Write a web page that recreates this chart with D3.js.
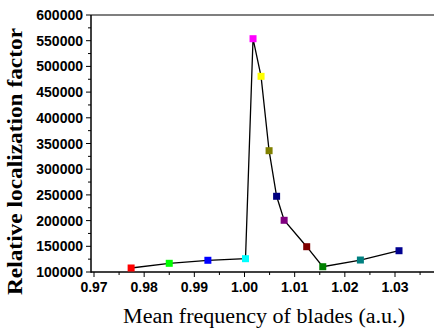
<!DOCTYPE html>
<html>
<head>
<meta charset="utf-8">
<script src="https://cdn.jsdelivr.net/npm/d3@7"></script>
<style>
  body { margin: 0; background: #fff; }
  svg text { fill: #000; }
</style>
</head>
<body>
<script>
// values
const freq = [0.9774, 0.9850, 0.9927, 1.0002, 1.0017, 1.0033, 1.0049, 1.0064, 1.0079, 1.0124, 1.0156, 1.0231, 1.0308]
const factor = [107800, 116900, 122800, 125900, 553900, 480700, 336000, 247300, 200600, 149200, 110300, 123300, 141400]
const colors = ['#ff0000', '#00ff00', '#0000ff', '#00ffff', '#ff00ff', '#ffff00', '#808000', '#000080', '#800080', '#800000', '#008000', '#008080', '#000090']
const xTicks = [0.97, 0.98, 0.99, 1.00, 1.01, 1.02, 1.03]
const yTicks = [100000, 150000, 200000, 250000, 300000, 350000, 400000, 450000, 500000, 550000, 600000]

const width = 434, height = 331
const plotLeft = 91, plotTop = 15, plotBottom = 272

const svg = d3.select('body').append('svg')
  .attr('width', width).attr('height', height)

const x = d3.scaleLinear().domain([0.97, 1.03]).range([94, 395])
const y = d3.scaleLinear().domain([100000, 600000]).range([plotBottom, plotTop])

const data = freq.map((f, i) => ({ f, v: factor[i], c: colors[i] }))

// top frame line (right side is cut off in the original)
svg.append('line')
  .attr('x1', plotLeft).attr('x2', width)
  .attr('y1', plotTop).attr('y2', plotTop)
  .attr('stroke', '#555').attr('stroke-width', 1.5)

// x axis
const xAxis = svg.append('g').attr('transform', `translate(0,${plotBottom})`)
xAxis.append('line').attr('x1', plotLeft).attr('x2', width).attr('stroke', '#000').attr('stroke-width', 1.5)
const xMinor = d3.range(0.965, 1.045, 0.01).map(d => +d.toFixed(3))
xAxis.selectAll('.xminor').data(xMinor).join('line')
  .attr('x1', d => x(d)).attr('x2', d => x(d)).attr('y1', 0).attr('y2', 3)
  .attr('stroke', '#000').attr('stroke-width', 1)
xAxis.selectAll('.xmajor').data(xTicks.concat([1.04])).join('line')
  .attr('x1', d => x(d)).attr('x2', d => x(d)).attr('y1', 0).attr('y2', 5)
  .attr('stroke', '#000').attr('stroke-width', 1)
xAxis.selectAll('text').data(xTicks).join('text')
  .attr('x', d => x(d)).attr('y', 19.5)
  .attr('text-anchor', 'middle')
  .style('font', 'bold 14px "Liberation Sans", Arial, sans-serif')
  .text(d => d.toFixed(2))

// y axis
const yAxis = svg.append('g').attr('transform', `translate(${plotLeft},0)`)
yAxis.append('line').attr('y1', plotTop).attr('y2', plotBottom + 0.75).attr('stroke', '#000').attr('stroke-width', 1.5)
const yMinor = d3.range(125000, 600000, 50000)
yAxis.selectAll('.yminor').data(yMinor).join('line')
  .attr('y1', d => y(d)).attr('y2', d => y(d)).attr('x1', 0).attr('x2', -3)
  .attr('stroke', '#000').attr('stroke-width', 1)
yAxis.selectAll('.ymajor').data(yTicks).join('line')
  .attr('y1', d => y(d)).attr('y2', d => y(d)).attr('x1', 0).attr('x2', -5)
  .attr('stroke', '#000').attr('stroke-width', 1)
yAxis.selectAll('text').data(yTicks).join('text')
  .attr('x', -8).attr('y', d => y(d)).attr('dy', '0.36em')
  .attr('text-anchor', 'end')
  .style('font', 'bold 14px "Liberation Sans", Arial, sans-serif')
  .text(d => d)

// connecting line
svg.append('path')
  .datum(data)
  .attr('fill', 'none').attr('stroke', '#000').attr('stroke-width', 1.3)
  .attr('d', d3.line().x(d => x(d.f)).y(d => y(d.v)))

// square markers
const s = 7
svg.selectAll('.pt').data(data).join('rect')
  .attr('x', d => x(d.f) - s / 2).attr('y', d => y(d.v) - s / 2)
  .attr('width', s).attr('height', s)
  .attr('fill', d => d.c)

// titles
svg.append('text')
  .attr('transform', 'translate(22,161.5) rotate(-90)')
  .attr('text-anchor', 'middle')
  .attr('textLength', 267).attr('lengthAdjust', 'spacingAndGlyphs')
  .style('font', 'bold 21px "Liberation Serif", "Times New Roman", serif')
  .text('Relative localization factor')

svg.append('text')
  .attr('x', 264).attr('y', 323)
  .attr('text-anchor', 'middle')
  .attr('textLength', 282).attr('lengthAdjust', 'spacingAndGlyphs')
  .style('font', '20px "Liberation Serif", "Times New Roman", serif')
  .text('Mean frequency of blades (a.u.)')
</script>
</body>
</html>
